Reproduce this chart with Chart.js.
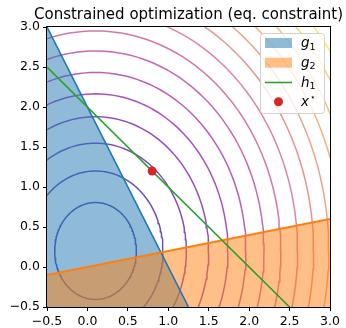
<!DOCTYPE html>
<html>
<head>
<meta charset="utf-8">
<script src="https://cdn.jsdelivr.net/npm/chart.js@4.4.1/dist/chart.umd.min.js"></script>
<style>
    html, body { margin: 0; padding: 0; background: #fff; }
    canvas { display: block; }
</style>
</head>
<body>
<canvas id="chart" width="346" height="328"></canvas>
<script>
// constraint boundaries, two end points each
const g1X = [-0.5, 1.25];
const g1Y = [3.0, -0.5];
const g2X = [-0.5, 3.0];
const g2Y = [-0.1, 0.6];
const h1X = [-0.5, 2.5];
const h1Y = [2.5, -0.5];
// constrained optimum
const xStar = [0.8, 1.2];
// objective contours: ellipses round one centre, horizontal half axis per level
const contourCentre = [0.1, 0.2];
const contourAspect = 1.2;
const contourHalfAxes = [0.505, 0.834, 1.123, 1.399, 1.637, 1.86, 2.084, 2.292, 2.499, 2.697, 2.885, 3.06, 3.235, 3.405, 3.57, 3.73];
const xTicks = [-0.5, 0.0, 0.5, 1.0, 1.5, 2.0, 2.5, 3.0];
const yTicks = [-0.5, 0.0, 0.5, 1.0, 1.5, 2.0, 2.5, 3.0];
const legendLabels = [['g', '1'], ['g', '2'], ['h', '1'], ['x', '\u22c6']];
const titleText = 'Constrained optimization (eq. constraint)';

const FONT = '"DejaVu Sans"';

// plasma colormap stops
const plasma = [
    [13, 8, 135], [76, 2, 161], [126, 3, 168], [169, 35, 149], [204, 71, 120],
    [229, 107, 93], [248, 148, 65], [253, 195, 40], [240, 249, 33]
];
function plasmaColor(t, alpha) {
    const p = t * (plasma.length - 1);
    const i = Math.min(Math.floor(p), plasma.length - 2);
    const f = p - i;
    const c = plasma[i].map((v, k) => Math.round(v + (plasma[i + 1][k] - v) * f));
    return 'rgba(' + c[0] + ',' + c[1] + ',' + c[2] + ',' + alpha + ')';
}

function points(xs, ys) {
    return xs.map((x, i) => ({ x: x, y: ys[i] }));
}

function ellipse(a) {
    const pts = [];
    for (let k = 0; k <= 180; k++) {
        const t = 2 * Math.PI * k / 180;
        pts.push({ x: contourCentre[0] + a * Math.cos(t), y: contourCentre[1] + a * contourAspect * Math.sin(t) });
    }
    return pts;
}

const datasets = [
    { data: [{ x: xStar[0], y: xStar[1] }], showLine: false, pointRadius: 4.5, pointBackgroundColor: '#d62728', pointBorderWidth: 0, order: 0 },
    { data: points(h1X, h1Y), borderColor: '#2ca02c', borderWidth: 1.6, pointRadius: 0, order: 1 },
    { data: points(g2X, g2Y), borderColor: '#ff7f0e', borderWidth: 1.8, pointRadius: 0, order: 2 },
    { data: points(g1X, g1Y), borderColor: '#1f77b4', borderWidth: 1.6, pointRadius: 0, order: 3 },
    { data: points(g2X, g2Y), borderColor: 'rgba(0,0,0,0)', borderWidth: 0, backgroundColor: 'rgba(255,127,14,0.5)', fill: 'start', pointRadius: 0, order: 4 },
    { data: points(g1X, g1Y), borderColor: 'rgba(0,0,0,0)', borderWidth: 0, backgroundColor: 'rgba(31,119,180,0.5)', fill: 'start', pointRadius: 0, order: 5 }
];
contourHalfAxes.forEach(function(a, i) {
    datasets.push({
        data: ellipse(a),
        borderColor: plasmaColor(i / (contourHalfAxes.length - 1), 0.7),
        borderWidth: 1.5,
        pointRadius: 0,
        clip: 0,
        order: 6
    });
});

function tickLabel(v) {
    return v.toFixed(1).replace('-', '\u2212');
}

const decorPlugin = {
    id: 'decor',
    afterDraw(chart) {
        const ctx = chart.ctx;
        const a = chart.chartArea;
        ctx.save();
        // frame
        ctx.strokeStyle = '#000';
        ctx.lineWidth = 1;
        ctx.strokeRect(a.left - 0.5, a.top - 0.5, a.right - a.left + 1, a.bottom - a.top + 1);
        // title
        ctx.fillStyle = '#000';
        ctx.font = '15px ' + FONT;
        ctx.textAlign = 'center';
        ctx.textBaseline = 'alphabetic';
        ctx.fillText(titleText, (a.left + a.right) / 2, 19);
        // legend
        const bx = 260, by = 33, bw = 64, bh = 80;
        ctx.beginPath();
        ctx.roundRect(bx + 0.5, by + 0.5, bw, bh, 3);
        ctx.fillStyle = 'rgba(255,255,255,0.8)';
        ctx.fill();
        ctx.strokeStyle = '#d0d0d0';
        ctx.stroke();
        const rows = [43, 62.7, 82.5, 101.7];
        ctx.fillStyle = 'rgba(31,119,180,0.5)';
        ctx.fillRect(265, rows[0] - 5, 27, 10);
        ctx.fillStyle = 'rgba(255,127,14,0.5)';
        ctx.fillRect(265, rows[1] - 5, 27, 10);
        ctx.strokeStyle = '#2ca02c';
        ctx.lineWidth = 1.6;
        ctx.beginPath();
        ctx.moveTo(265, rows[2]);
        ctx.lineTo(292, rows[2]);
        ctx.stroke();
        ctx.fillStyle = '#d62728';
        ctx.beginPath();
        ctx.arc(278.5, rows[3], 4.5, 0, 2 * Math.PI);
        ctx.fill();
        ctx.fillStyle = '#000';
        ctx.textAlign = 'left';
        legendLabels.forEach(function(lab, i) {
            const base = rows[i] + 4;
            ctx.font = 'italic 13.5px ' + FONT;
            ctx.fillText(lab[0], 301, base);
            const w = ctx.measureText(lab[0]).width;
            if (i === 3) {
                ctx.font = '9px ' + FONT;
                ctx.fillText(lab[1], 301 + w + 1, base - 6);
            } else {
                ctx.font = '9.5px ' + FONT;
                ctx.fillText(lab[1], 301 + w, base + 2.5);
            }
        });
        ctx.restore();
    }
};

new Chart(document.getElementById('chart'), {
    type: 'line',
    data: { datasets: datasets },
    options: {
        responsive: false,
        animation: false,
        devicePixelRatio: 1,
        layout: { padding: { top: 27, right: 16, left: 0, bottom: 0 } },
        elements: { line: { tension: 0 } },
        plugins: {
            legend: { display: false },
            tooltip: { enabled: false }
        },
        scales: {
            x: {
                type: 'linear',
                min: -0.5,
                max: 3.0,
                afterBuildTicks: function(scale) { scale.ticks = xTicks.map(v => ({ value: v })); },
                afterFit: function(scale) { scale.height = 21; },
                ticks: { callback: tickLabel, color: '#000', padding: 3, maxRotation: 0, autoSkip: false, font: { family: 'DejaVu Sans', size: 12.5 } },
                grid: { drawOnChartArea: false, drawTicks: true, tickLength: 4, color: '#000' },
                border: { display: false }
            },
            y: {
                type: 'linear',
                min: -0.5,
                max: 3.0,
                afterBuildTicks: function(scale) { scale.ticks = yTicks.map(v => ({ value: v })); },
                afterFit: function(scale) { scale.width = 47; },
                ticks: { callback: tickLabel, color: '#000', padding: 3, autoSkip: false, font: { family: 'DejaVu Sans', size: 12.5 } },
                grid: { drawOnChartArea: false, drawTicks: true, tickLength: 4, color: '#000' },
                border: { display: false }
            }
        }
    },
    plugins: [decorPlugin]
});
</script>
</body>
</html>
